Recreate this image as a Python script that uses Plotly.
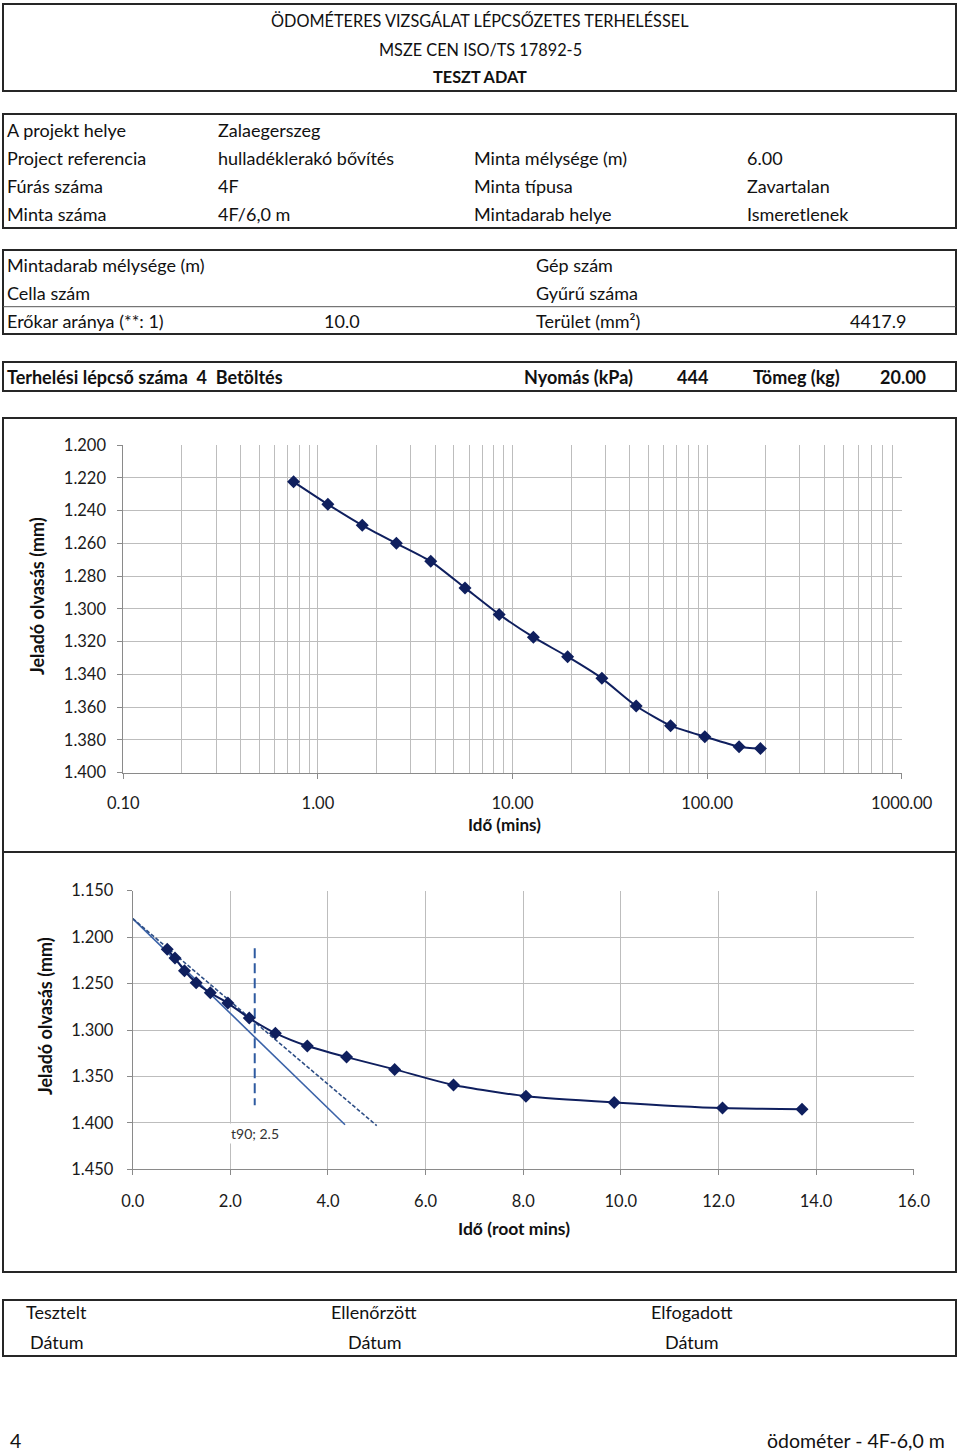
import math
import plotly.graph_objects as go

W, H = 960, 1453
FONT = "Lato, 'Open Sans', sans-serif"

# ---------------- data ----------------
time_min = [0.5, 0.75, 1.125, 1.69, 2.53, 3.8, 5.7, 8.54, 12.8, 19.2, 28.8, 43.2, 64.9, 97.3, 146.0, 188.0]
reading_mm = [1.2131, 1.2225, 1.2362, 1.2490, 1.2600, 1.2710, 1.2872, 1.3034, 1.3173, 1.3292,
              1.3424, 1.3593, 1.3713, 1.3780, 1.3841, 1.3853]

log_ticks = [0.1, 1, 10, 100, 1000]
log_tick_labels = ["0.10", "1.00", "10.00", "100.00", "1000.00"]

tangent_x = [0.0, 4.35]
tangent_y = [1.180, 1.402]
taylor_x = [0.0, 5.0]
taylor_y = [1.180, 1.403]
t90_value = 2.5
t90_y = [1.212, 1.381]
t90_label_y = 1.411

# ---------------- helpers ----------------
def X(px):
    return px / W

def Y(py):
    return 1 - py / H

NAVY = "#0F1F5E"
fig = go.Figure()

root_time = [math.sqrt(t) for t in time_min]

# chart 1 (log time)
fig.add_trace(go.Scatter(
    x=time_min[1:], y=reading_mm[1:], mode="lines+markers",
    line=dict(color=NAVY, width=2, shape="spline", smoothing=0.6),
    marker=dict(symbol="diamond", size=10, color=NAVY),
    xaxis="x", yaxis="y", showlegend=False, hoverinfo="x+y"))

# chart 2 (root time)
fig.add_trace(go.Scatter(
    x=tangent_x, y=tangent_y, mode="lines",
    line=dict(color="#3A62A8", width=1.6),
    xaxis="x2", yaxis="y2", showlegend=False))
fig.add_trace(go.Scatter(
    x=taylor_x, y=taylor_y, mode="lines",
    line=dict(color="#2F4F86", width=1.6, dash="4px,2px"),
    xaxis="x2", yaxis="y2", showlegend=False))
fig.add_trace(go.Scatter(
    x=[t90_value, t90_value], y=t90_y, mode="lines",
    line=dict(color="#2E5AA0", width=2, dash="10px,5px"),
    xaxis="x2", yaxis="y2", showlegend=False))
fig.add_trace(go.Scatter(
    x=root_time, y=reading_mm, mode="lines+markers",
    line=dict(color=NAVY, width=2, shape="spline", smoothing=0.6),
    marker=dict(symbol="diamond", size=10, color=NAVY),
    xaxis="x2", yaxis="y2", showlegend=False))

GRID = "#BDBDBD"
AXL = "#8A8A8A"
TICKF = dict(family=FONT, size=16.5, color="#1a1a1a")

minor_vals = [m * 10 ** e for e in range(-1, 3) for m in range(2, 10)]

common = dict(showgrid=True, gridcolor=GRID, gridwidth=1,
              showline=True, linecolor=AXL, linewidth=1,
              ticks="outside", ticklen=5, tickcolor=AXL,
              tickfont=TICKF, zeroline=False, fixedrange=True, automargin=False)

fig.update_layout(
    template="none",
    width=W, height=H, margin=dict(l=0, r=0, t=0, b=0, pad=0, autoexpand=False),
    paper_bgcolor="white", plot_bgcolor="white",
    font=dict(family=FONT, size=16, color="#111"),
    xaxis=dict(type="log", range=[-1, 3], domain=[X(123.3), X(901.7)],
               anchor="y", tickvals=log_ticks, ticktext=log_tick_labels,
               minor=dict(tickvals=minor_vals, showgrid=True, gridcolor=GRID, gridwidth=1, ticks=""),
               ticklabelstandoff=10, **common),
    yaxis=dict(range=[1.4, 1.2], domain=[Y(772.7), Y(445)], anchor="x",
               dtick=0.02, tick0=1.2, tickformat=".3f",
               ticklabelstandoff=8, **common),
    xaxis2=dict(range=[0, 16], domain=[X(132.7), X(913.7)], anchor="y2",
                dtick=2, tick0=0, tickformat=".1f",
                ticklabelstandoff=12, **common),
    yaxis2=dict(range=[1.45, 1.15], domain=[Y(1169.3), Y(890.7)], anchor="x2",
                dtick=0.05, tick0=1.15, tickformat=".3f",
                ticklabelstandoff=10, **common),
)

# ---------------- boxes ----------------
BORDER = dict(color="#262626", width=2)
boxes = [(3, 4, 956, 91), (3, 114, 956, 228), (3, 250, 956, 334), (3, 362, 956, 391),
         (3, 418, 956, 852), (3, 852, 956, 1272), (3, 1300, 956, 1356)]
shapes = []
for x0, y0, x1, y1 in boxes:
    shapes.append(dict(type="rect", xref="paper", yref="paper",
                       x0=X(x0), x1=X(x1), y0=Y(y1), y1=Y(y0), line=BORDER,
                       fillcolor="rgba(0,0,0,0)", layer="below"))
shapes.append(dict(type="line", xref="paper", yref="paper", x0=X(3), x1=X(956),
                   y0=Y(306.7), y1=Y(306.7), line=dict(color="#555", width=1)))
fig.update_layout(shapes=shapes)

# ---------------- texts ----------------
ann = []

def txt(s, px, py, anchor="left", size=18, bold=False, color="#111"):
    if bold:
        s = "<b>" + s + "</b>"
    if anchor == "left":
        px -= 2
    elif anchor == "right":
        px += 2
    ann.append(dict(text=s, x=X(px), y=Y(py), xref="paper", yref="paper",
                    xanchor=anchor, yanchor="middle", showarrow=False,
                    font=dict(family=FONT, size=size, color=color)))

txt("ÖDOMÉTERES VIZSGÁLAT LÉPCSŐZETES TERHELÉSSEL", 480, 21, "center", 16.3)
txt("MSZE CEN ISO/TS 17892-5", 480, 49, "center", 16.3)
txt("TESZT ADAT", 480, 77, "center", 16.3, bold=True)

rows1 = [("A projekt helye", "Zalaegerszeg", "", ""),
         ("Project referencia", "hulladéklerakó bővítés", "Minta mélysége (m)", "6.00"),
         ("Fúrás száma", "4F", "Minta típusa", "Zavartalan"),
         ("Minta száma", "4F/6,0 m", "Mintadarab helye", "Ismeretlenek")]
for i, r in enumerate(rows1):
    py = 130 + 28 * i
    for s, px in zip(r, [7, 218, 474, 747]):
        if s:
            txt(s, px, py)

txt("Mintadarab mélysége (m)", 7, 265)
txt("Gép szám", 536, 265)
txt("Cella szám", 7, 293)
txt("Gyűrű száma", 536, 293)
txt("Erőkar aránya (**: 1)", 7, 321)
txt("10.0", 324, 321)
txt("Terület (mm²)", 536, 321)
txt("4417.9", 906, 321, "right")

txt("Terhelési lépcső száma  4  Betöltés", 7, 377, bold=True)
txt("Nyomás (kPa)", 524, 377, bold=True)
txt("444", 677, 377, bold=True)
txt("Tömeg (kg)", 753, 377, bold=True)
txt("20.00", 926, 377, "right", bold=True)

# axis titles
txt("Idő (mins)", 505, 824, "center", size=17, bold=True)
txt("Idő (root mins)", 514, 1228, "center", size=17.5, bold=True)
ann.append(dict(text="<b>Jeladó olvasás (mm)</b>", x=X(37), y=Y(596), xref="paper", yref="paper",
                textangle=-90, showarrow=False, xanchor="center", yanchor="middle",
                font=dict(family=FONT, size=18, color="#111")))
ann.append(dict(text="<b>Jeladó olvasás (mm)</b>", x=X(45), y=Y(1016), xref="paper", yref="paper",
                textangle=-90, showarrow=False, xanchor="center", yanchor="middle",
                font=dict(family=FONT, size=18, color="#111")))

# t90 label
ann.append(dict(text="t90; %.1f" % t90_value, x=t90_value, y=t90_label_y, xref="x2", yref="y2",
                showarrow=False, xanchor="center", yanchor="middle", bgcolor="white",
                font=dict(family=FONT, size=14, color="#333")))

# footer
txt("Tesztelt", 26, 1312)
txt("Ellenőrzött", 331, 1312)
txt("Elfogadott", 651, 1312)
txt("Dátum", 30, 1342)
txt("Dátum", 348, 1342)
txt("Dátum", 665, 1342)
txt("4", 10, 1440, size=19.5)
txt("ödométer - 4F-6,0 m", 945, 1440, "right", size=19.5)

fig.update_layout(annotations=ann)
fig.write_html("out.html", config={"displayModeBar": False},
               post_script="document.body.style.margin='0';document.body.style.padding='0';"
                           "document.documentElement.style.overflow='hidden';")
